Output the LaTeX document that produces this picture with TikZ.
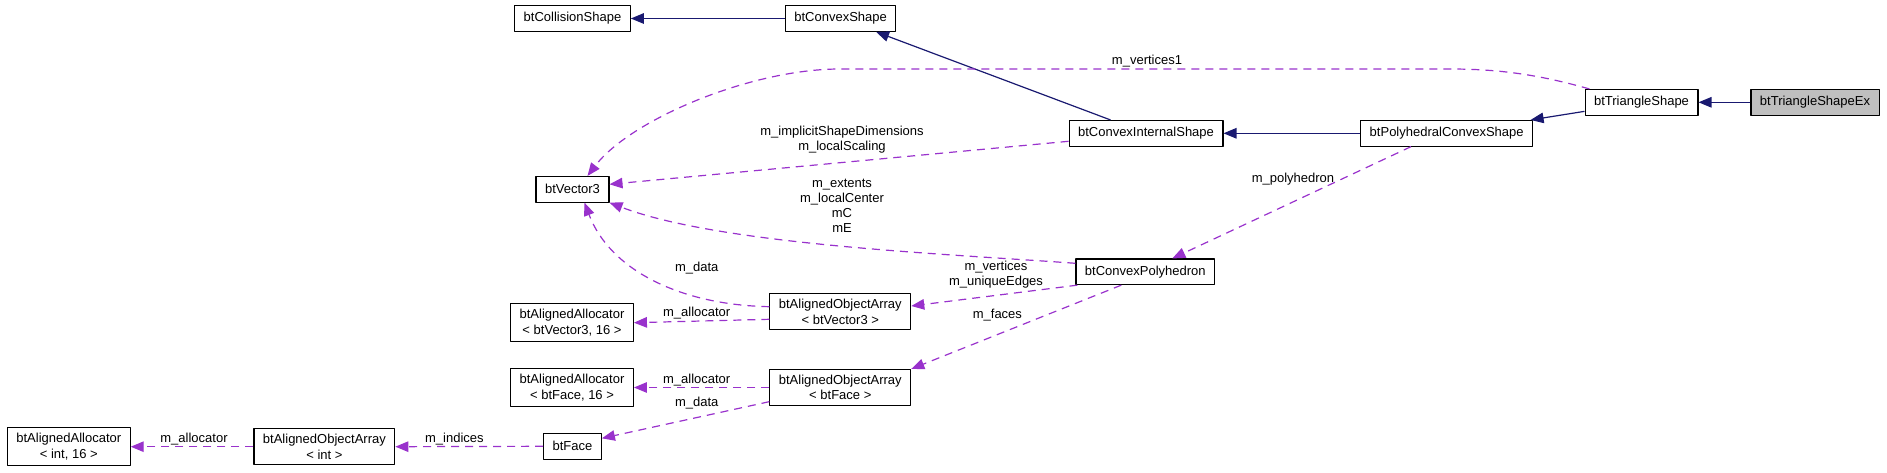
\documentclass[tikz,border=0pt]{standalone}
\usepackage{fontspec}
\setmainfont{Liberation Sans}
\usetikzlibrary{arrows.meta}
\definecolor{inhblue}{RGB}{25,25,112}
\definecolor{mempurple}{RGB}{153,50,204}
\definecolor{boxgray}{RGB}{191,191,191}

\begin{document}
\begin{tikzpicture}[x=1pt, y=-1pt, >={Triangle[length=13pt,width=10.5pt]}, line join=round,
	font=\fontsize{13}{15.5}\selectfont,
	cls/.style={draw=black, line width=1.1pt, fill=white, align=center, inner xsep=9pt, inner ysep=5.5pt, minimum height=25.6pt},
	inh/.style={->, inhblue, line width=1.2pt},
	mem/.style={->, mempurple, line width=1.2pt, dash pattern=on 8pt off 6pt},
	lbl/.style={align=center, inner sep=0pt, font=\fontsize{13}{15}\selectfont}]
	\useasboundingbox (0,0) rectangle (1887,473);

	% 1. Các lớp
	\node[cls] (coll) at (572.5,18.5) {btCollisionShape};
	\node[cls] (cvx) at (840.6,18.5) {btConvexShape};
	\node[cls] (vec) at (572.5,189.3) {btVector3};
	\node[cls] (cint) at (1146,133.3) {btConvexInternalShape};
	\node[cls] (poly) at (1446.7,133.3) {btPolyhedralConvexShape};
	\node[cls] (tri) at (1641.5,102.3) {btTriangleShape};
	\node[cls, fill=boxgray] (triex) at (1815,102.3) {btTriangleShapeEx};
	\node[cls] (cpoly) at (1145.3,271.8) {btConvexPolyhedron};
	\node[cls] (aoav) at (840.3,311.7) {btAlignedObjectArray\\< btVector3 >};
	\node[cls] (aav) at (572,322.7) {btAlignedAllocator\\< btVector3, 16 >};
	\node[cls] (aoaf) at (840.3,387.5) {btAlignedObjectArray\\< btFace >};
	\node[cls] (aaf) at (572,387.5) {btAlignedAllocator\\< btFace, 16 >};
	\node[cls] (aai) at (68.8,446.7) {btAlignedAllocator\\< int, 16 >};
	\node[cls] (aoai) at (324.4,446.7) {btAlignedObjectArray\\< int >};
	\node[cls] (face) at (572.5,446.3) {btFace};

	% 2. Kế thừa
	\draw[inh] (cvx) -- (coll);
	\draw[inh] (cint) -- (cvx);
	\draw[inh] (poly) -- (cint);
	\draw[inh] (tri) -- (poly);
	\draw[inh] (triex) -- (tri);

	% 3. Thành viên
	\draw[mem] ([xshift=5pt]tri.north west) .. controls (1540,75) and (1500,69) .. (1450,69)
		-- (840,69) .. controls (750,69) and (630,120) .. ([xshift=15pt]vec.north);
	\node[lbl] (lv1) at (1147,61) {m\_vertices1};

	\draw[mem] ([yshift=-8pt]cint.west) -- ([yshift=5pt]vec.east);
	\node[lbl] (lis) at (842,140) {m\_implicitShapeDimensions\\m\_localScaling};

	\draw[mem] ([yshift=8.5pt]cpoly.west) .. controls (950,254) and (720,245) .. (vec.south east);
	\node[lbl] (lext) at (842,205.5) {m\_extents\\m\_localCenter\\mC\\mE};

	\draw[mem] ([yshift=5pt]aoav.west) .. controls (680,305) and (610,270) .. ([xshift=12pt]vec.south);
	\node[lbl] (ld1) at (696.7,267.7) {m\_data};

	\draw[mem] ([xshift=-35.7pt]poly.south) -- ([xshift=27pt]cpoly.north);
	\node[lbl] (lph) at (1293,179) {m\_polyhedron};

	\draw[mem] ([xshift=2pt]cpoly.south west) -- ([yshift=5.7pt]aoav.east);
	\node[lbl] (lvu) at (996,275) {m\_vertices\\m\_uniqueEdges};

	\draw[mem] ([xshift=-24pt]cpoly.south) -- (aoaf.north east);
	\node[lbl] (lfc) at (997.4,315) {m\_faces};

	\draw[mem] ([yshift=-7.6pt]aoav.west) -- (aav.east);
	\node[lbl] (la1) at (696.7,313) {m\_allocator};

	\draw[mem] (aoaf.west) -- (aaf.east);
	\node[lbl] (la2) at (696.7,379.7) {m\_allocator};

	\draw[mem] ([yshift=4.4pt]aoaf.south west) -- ([yshift=8pt]face.east);
	\node[lbl] (ld2) at (696.7,403.3) {m\_data};

	\draw[mem] (face.west) -- (aoai.east);
	\node[lbl] (lidx) at (454.4,439) {m\_indices};

	\draw[mem] (aoai.west) -- (aai.east);
	\node[lbl] (la3) at (194,439) {m\_allocator};
\end{tikzpicture}
\end{document}
